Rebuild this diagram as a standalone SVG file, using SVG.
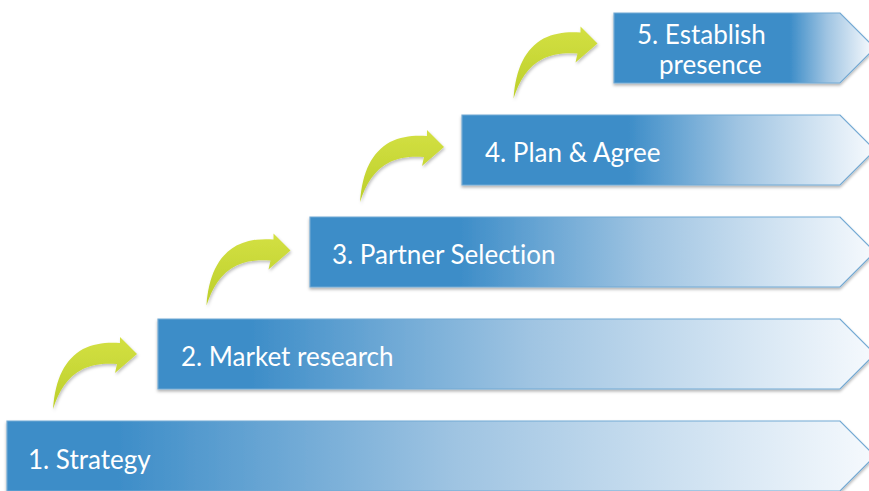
<svg xmlns="http://www.w3.org/2000/svg" width="869" height="491" viewBox="0 0 869 491">
<defs>
<style>
.box{stroke:#72a9d3;stroke-width:1.2;filter:url(#sh)}
.lbl{fill:#ffffff;font-family:Lato,"Open Sans","Liberation Sans",sans-serif;font-size:26px;font-variant-ligatures:none}
.arr{fill:url(#ga);filter:url(#sh2)}
</style>
<filter id="sh" x="-5%" y="-10%" width="110%" height="130%">
<feDropShadow dx="0" dy="2" stdDeviation="1.5" flood-color="#000" flood-opacity="0.3"/>
</filter>
<filter id="sh2" x="-20%" y="-20%" width="140%" height="140%">
<feDropShadow dx="1" dy="2" stdDeviation="1.5" flood-color="#000" flood-opacity="0.25"/>
</filter>
<linearGradient id="ga" x1="0" y1="0" x2="0" y2="1">
<stop offset="0" stop-color="#d3e043"/>
<stop offset="1" stop-color="#bccf2a"/>
</linearGradient>
<linearGradient id="g1" gradientUnits="userSpaceOnUse" x1="117" y1="0" x2="872" y2="0">
<stop offset="0" stop-color="#3d8dc8"/><stop offset="0.45" stop-color="#9fc4e2"/><stop offset="1" stop-color="#f5f9fd"/>
</linearGradient>
<linearGradient id="g2" gradientUnits="userSpaceOnUse" x1="250" y1="0" x2="872" y2="0">
<stop offset="0" stop-color="#3d8dc8"/><stop offset="0.45" stop-color="#9fc4e2"/><stop offset="1" stop-color="#f5f9fd"/>
</linearGradient>
<linearGradient id="g3" gradientUnits="userSpaceOnUse" x1="460" y1="0" x2="872" y2="0">
<stop offset="0" stop-color="#3d8dc8"/><stop offset="0.45" stop-color="#9fc4e2"/><stop offset="1" stop-color="#f5f9fd"/>
</linearGradient>
<linearGradient id="g4" gradientUnits="userSpaceOnUse" x1="628" y1="0" x2="872" y2="0">
<stop offset="0" stop-color="#3d8dc8"/><stop offset="0.45" stop-color="#9fc4e2"/><stop offset="1" stop-color="#f5f9fd"/>
</linearGradient>
<linearGradient id="g5" gradientUnits="userSpaceOnUse" x1="790" y1="0" x2="872" y2="0">
<stop offset="0" stop-color="#3d8dc8"/><stop offset="0.45" stop-color="#9fc4e2"/><stop offset="1" stop-color="#f5f9fd"/>
</linearGradient>
<path id="arrow" d="M0,0 C2,-30 12,-50 30,-60 C42,-66 55,-67 67,-66 L67,-72 L84,-55 L62,-36 L64,-45 C52,-46 40,-45 30,-40 C14,-32 6,-18 0,0 Z"/>
</defs>
<g id="connectors">
<use href="#arrow" class="arr" transform="translate(53,409)"/>
<use href="#arrow" class="arr" transform="translate(206.5,305.5)"/>
<use href="#arrow" class="arr" transform="translate(360,202)"/>
<use href="#arrow" class="arr" transform="translate(513.5,98.5)"/>
</g>
<g id="step1">
<path class="box" fill="url(#g1)" d="M7,421 H840 L875,456 L840,491 H7 Z"/>
<text class="lbl" x="28" y="469">1. Strategy</text>
</g>
<g id="step2">
<path class="box" fill="url(#g2)" d="M158,319 H840 L875,354 L840,389 H158 Z"/>
<text class="lbl" x="181" y="366">2. Market research</text>
</g>
<g id="step3">
<path class="box" fill="url(#g3)" d="M310,217 H840 L875,252 L840,287 H310 Z"/>
<text class="lbl" x="332" y="264">3. Partner Selection</text>
</g>
<g id="step4">
<path class="box" fill="url(#g4)" d="M462,115 H840 L875,150 L840,185 H462 Z"/>
<text class="lbl" x="485" y="162">4. Plan &amp; Agree</text>
</g>
<g id="step5">
<path class="box" fill="url(#g5)" d="M614,13 H840 L875,48 L840,83 H614 Z"/>
<text class="lbl" x="637" y="44">5. Establish</text>
<text class="lbl" x="659" y="74">presence</text>
</g>
</svg>
